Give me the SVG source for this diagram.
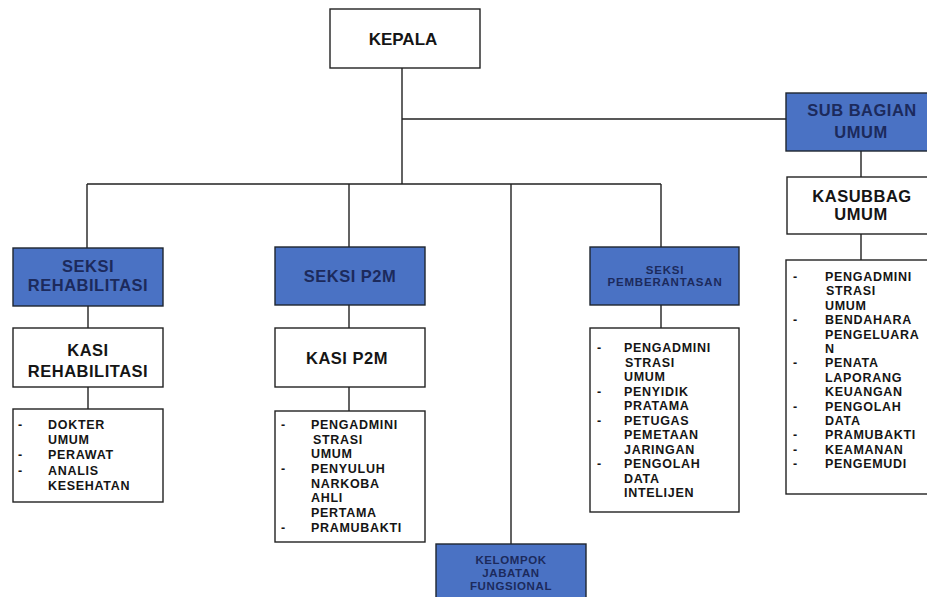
<svg xmlns="http://www.w3.org/2000/svg" width="927" height="597" viewBox="0 0 927 597">
<style>
.box{fill:#ffffff;stroke:#222222;stroke-width:1.4}
.blue{fill:#4a72c4;stroke:#1e2530;stroke-width:1.4}
.ln{stroke:#222222;stroke-width:1.4;fill:none}
text{font-family:"Liberation Sans",Arial,sans-serif;font-weight:bold}
.h{font-size:16.5px;letter-spacing:0.5px;fill:#151515;text-anchor:middle}
.hb{font-size:16.5px;letter-spacing:0.5px;fill:#1c2a5c;text-anchor:middle}
.sb{font-size:11.5px;letter-spacing:0.8px;fill:#1c2a5c;text-anchor:middle}
.li{font-size:12.5px;letter-spacing:0.7px;fill:#151515}
</style>
<rect width="927" height="597" fill="#ffffff"/>
<g id="connectors">
<path class="ln" d="M402,68 V184 M402,119 H786 M87,184 H661 M87,184 V248 M349,184 V248 M511,184 V544 M661,184 V248 M88,306 V328 M88,387 V409 M349,305 V328 M349,387 V411 M661,305 V328 M861,151 V177 M861,234 V260"/>
</g>
<g id="kepala">
<rect class="box" x="330" y="9" width="150" height="59"/>
<text x="403" y="45" style="font-size:17px;fill:#151515;text-anchor:middle">KEPALA</text>
</g>
<g id="sub-bagian-umum">
<rect class="blue" x="786" y="93" width="150" height="58"/>
<text class="hb" x="862" y="116">SUB BAGIAN</text>
<text class="hb" x="861" y="138">UMUM</text>
</g>
<g id="kasubbag-umum">
<rect class="box" x="787" y="177" width="148" height="57"/>
<text class="h" x="862" y="202">KASUBBAG</text>
<text class="h" x="861" y="220">UMUM</text>
</g>
<g id="list-umum">
<rect class="box" x="786" y="260" width="150" height="234"/>
<text class="li"><tspan x="793" y="281">-</tspan><tspan x="825" y="281">PENGADMINI</tspan><tspan x="826" y="295.4">STRASI</tspan><tspan x="825" y="309.8">UMUM</tspan><tspan x="793" y="324.2">-</tspan><tspan x="825" y="324.2">BENDAHARA</tspan><tspan x="825" y="338.6">PENGELUARA</tspan><tspan x="825" y="353">N</tspan><tspan x="793" y="367.4">-</tspan><tspan x="825" y="367.4">PENATA</tspan><tspan x="825" y="381.8">LAPORANG</tspan><tspan x="825" y="396.2">KEUANGAN</tspan><tspan x="793" y="410.6">-</tspan><tspan x="825" y="410.6">PENGOLAH</tspan><tspan x="825" y="425">DATA</tspan><tspan x="793" y="439.4">-</tspan><tspan x="825" y="439.4">PRAMUBAKTI</tspan><tspan x="793" y="453.8">-</tspan><tspan x="825" y="453.8">KEAMANAN</tspan><tspan x="793" y="468.2">-</tspan><tspan x="825" y="468.2">PENGEMUDI</tspan></text>
</g>
<g id="seksi-rehabilitasi">
<rect class="blue" x="13" y="248" width="150" height="58"/>
<text class="hb" x="88" y="272">SEKSI</text>
<text class="hb" x="88" y="291">REHABILITASI</text>
</g>
<g id="kasi-rehabilitasi">
<rect class="box" x="13" y="328" width="150" height="59"/>
<text class="h" x="88" y="356">KASI</text>
<text class="h" x="88" y="377">REHABILITASI</text>
</g>
<g id="list-rehabilitasi">
<rect class="box" x="13" y="409" width="150" height="93"/>
<text class="li"><tspan x="18" y="429">-</tspan><tspan x="48" y="429">DOKTER</tspan><tspan x="48" y="444">UMUM</tspan><tspan x="18" y="459">-</tspan><tspan x="48" y="459">PERAWAT</tspan><tspan x="18" y="474.5">-</tspan><tspan x="48" y="474.5">ANALIS</tspan><tspan x="48" y="490">KESEHATAN</tspan></text>
</g>
<g id="seksi-p2m">
<rect class="blue" x="275" y="247" width="150" height="58"/>
<text class="hb" x="350" y="282">SEKSI P2M</text>
</g>
<g id="kasi-p2m">
<rect class="box" x="275" y="328" width="150" height="59"/>
<text class="h" x="347" y="364">KASI P2M</text>
</g>
<g id="list-p2m">
<rect class="box" x="275" y="411" width="150" height="131"/>
<text class="li"><tspan x="281" y="429">-</tspan><tspan x="311" y="429">PENGADMINI</tspan><tspan x="313" y="443.7">STRASI</tspan><tspan x="311" y="458.3">UMUM</tspan><tspan x="281" y="473">-</tspan><tspan x="311" y="473">PENYULUH</tspan><tspan x="311" y="487.7">NARKOBA</tspan><tspan x="311" y="502.3">AHLI</tspan><tspan x="311" y="517">PERTAMA</tspan><tspan x="281" y="531.7">-</tspan><tspan x="311" y="531.7">PRAMUBAKTI</tspan></text>
</g>
<g id="seksi-pemberantasan">
<rect class="blue" x="590" y="247" width="149" height="58"/>
<text class="sb" x="665" y="274">SEKSI</text>
<text class="sb" x="665" y="286">PEMBERANTASAN</text>
</g>
<g id="list-pemberantasan">
<rect class="box" x="590" y="328" width="149" height="184"/>
<text class="li"><tspan x="597" y="352">-</tspan><tspan x="624" y="352">PENGADMINI</tspan><tspan x="625" y="366.5">STRASI</tspan><tspan x="624" y="381">UMUM</tspan><tspan x="597" y="395.5">-</tspan><tspan x="624" y="395.5">PENYIDIK</tspan><tspan x="624" y="410">PRATAMA</tspan><tspan x="597" y="424.5">-</tspan><tspan x="624" y="424.5">PETUGAS</tspan><tspan x="624" y="439">PEMETAAN</tspan><tspan x="624" y="453.5">JARINGAN</tspan><tspan x="597" y="468">-</tspan><tspan x="624" y="468">PENGOLAH</tspan><tspan x="624" y="482.5">DATA</tspan><tspan x="624" y="497">INTELIJEN</tspan></text>
</g>
<g id="kelompok-jabatan-fungsional">
<rect class="blue" x="436" y="544" width="150" height="60"/>
<text class="sb" x="511" y="564" style="letter-spacing:0.6px">KELOMPOK</text>
<text class="sb" x="511" y="577" style="letter-spacing:0.6px">JABATAN</text>
<text class="sb" x="511" y="590" style="letter-spacing:0.6px">FUNGSIONAL</text>
</g>
</svg>
